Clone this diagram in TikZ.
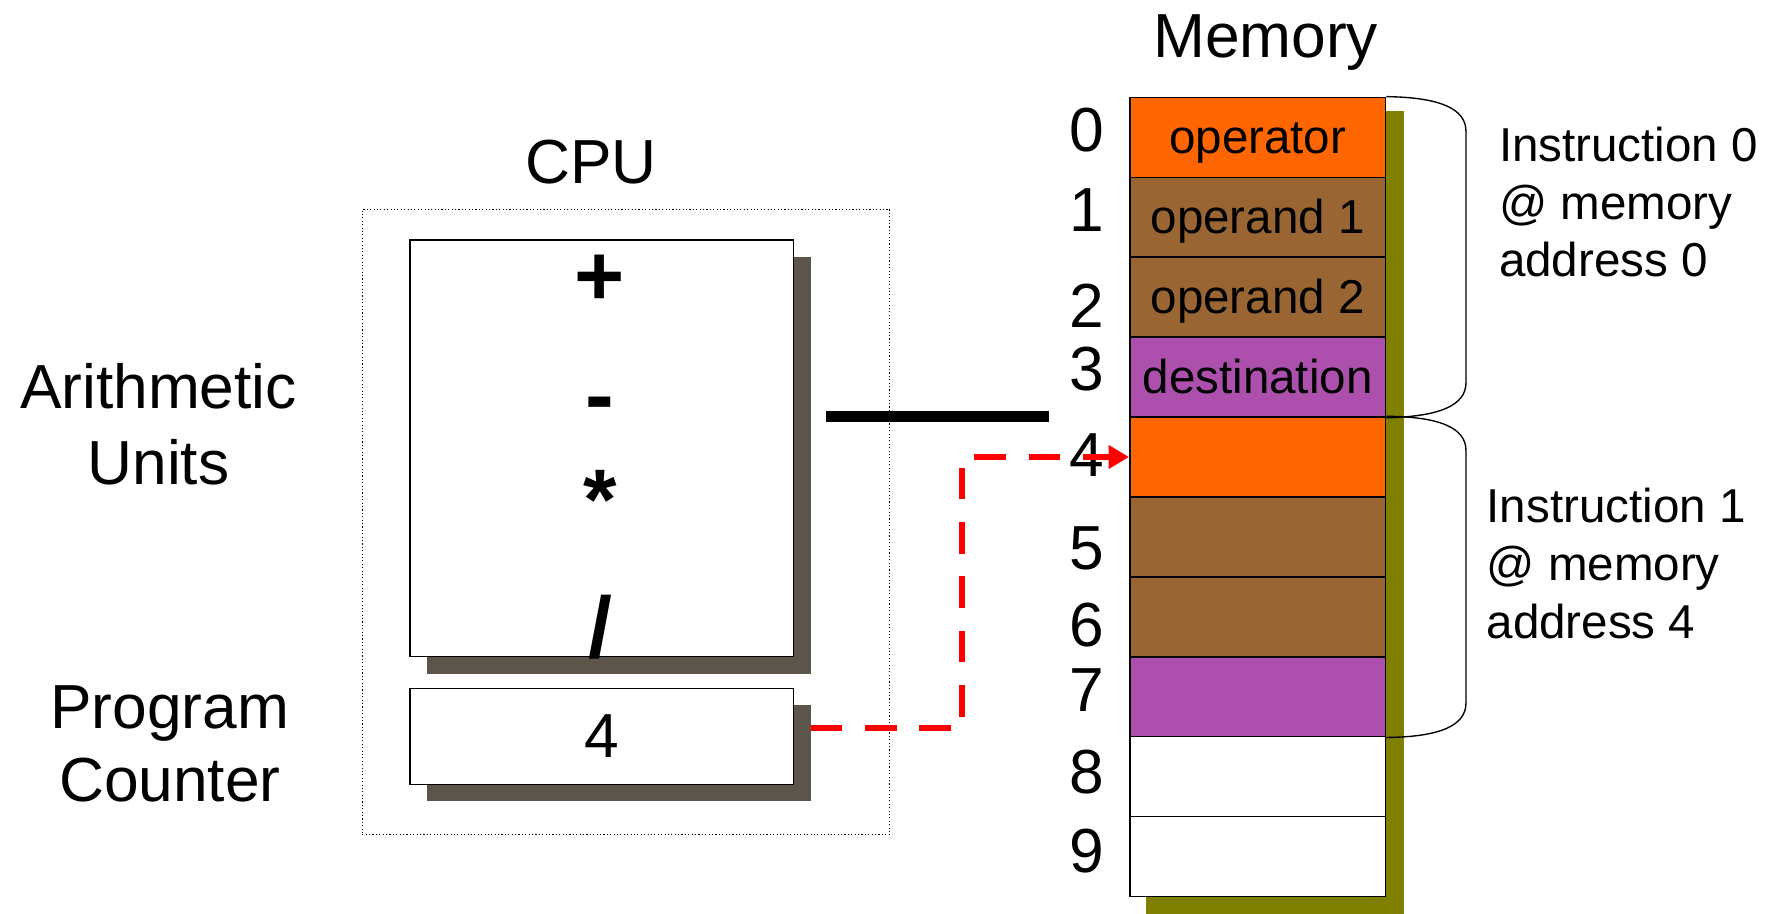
\documentclass[tikz,border=0pt]{standalone}
\usepackage{fontspec}
\setmainfont{Liberation Sans}
\usetikzlibrary{arrows.meta, positioning}

\definecolor{memorange}{HTML}{FF6600}
\definecolor{membrown}{HTML}{996633}
\definecolor{mempurple}{HTML}{AD50AD}
\definecolor{memshadow}{HTML}{808000}
\definecolor{cpushadow}{HTML}{5C554C}

\begin{document}
\begin{tikzpicture}[x=1pt, y=-1pt, every node/.style={inner sep=0pt, font=\fontsize{55}{66}\selectfont},
  cell/.style={draw=black, line width=1.3pt, minimum width=226pt, minimum height=70.6pt,
    text height=38pt, text depth=9pt, font=\fontsize{42}{50}\selectfont},
  unitbox/.style={draw=black, line width=1.3pt, fill=white, minimum width=339pt},
  shadowbox/.style={fill=cpushadow, minimum width=339pt},
  opsign/.style={anchor=base, font=\fontsize{76}{80}\selectfont\bfseries},
  note/.style={anchor=north west, align=left, font=\fontsize{42}{51}\selectfont}]
\useasboundingbox (0,0) rectangle (1568,807);

% Pamięć: cień i komórki
\fill[memshadow] (1012,98) rectangle (1240,807);
\foreach \i/\col/\txt in {
  0/memorange/operator, 1/membrown/operand 1, 2/membrown/operand 2, 3/mempurple/destination,
  4/memorange/, 5/membrown/, 6/membrown/, 7/mempurple/, 8/white/, 9/white/
} {
  \node[cell, fill=\col] (m\i) at (1111, 121.3 + 70.6*\i) {\txt};
}

% Adresy
\foreach \i/\y in {0/115, 1/186, 2/270, 3/326, 4/402, 5/484, 6/552, 7/610, 8/682, 9/752} {
  \node (n\i) at (960,\y) {\i};
}

% Nawiasy instrukcji
\draw[line width=1.2pt] (m0.north east) .. controls (1272,86) and (1295,96) .. (1295,116)
  -- (1295,338) .. controls (1295,358) and (1272,368) .. (m3.south east);
\draw[line width=1.2pt] (m4.north east) .. controls (1272,368) and (1295,378) .. (1295,398)
  -- (1295,621) .. controls (1295,641) and (1272,651) .. (m7.south east);
\node[note] (instr0) at (1324,112) {Instruction 0\\@ memory\\address 0};
\node[note] (instr1) at (1313,431) {Instruction 1\\@ memory\\address 4};

% Tytuły
\node[anchor=base] (memtitle) at (1118,51) {Memory};
\node[anchor=base] (cputitle) at (522,162) {CPU};

% Procesor
\node[draw=black, dotted, line width=1pt, minimum width=466pt, minimum height=552pt] (cpu) at (553,461) {};
\node[shadowbox, minimum height=368pt] (alushadow) at (546.5,411) {};
\node[unitbox, minimum height=368pt] (alu) at (531.5,396) {};
\node[opsign] (plus) at (530,270) {+};
\node[opsign] (minus) at (530,375) {-};
\node[opsign] (times) at (530,468) {*};
\node[opsign] (divide) at (530,581) {/};
\node[shadowbox, minimum height=85pt] (pcshadow) at (546.5,665.5) {};
\node[unitbox, minimum height=85pt] (pc) at (531.5,650.5) {4};

% Opisy
\node[align=center, font=\fontsize{55}{67}\selectfont] (alulabel) at (140,375) {Arithmetic\\Units};
\node[align=center, font=\fontsize{55}{64}\selectfont] (pclabel) at (150,657) {Program\\Counter};

% Szyna i wskaźnik
\coordinate (busl) at (730,368);
\coordinate (busr) at (927,368);
\draw[line width=9.5pt] (busl) -- (busr);
\coordinate (pcout) at (716,643);
\draw[red, line width=5pt, dash pattern=on 28pt off 20pt, -{Triangle[length=18pt, width=20pt]}]
  (pcout) -- ++(134,0) |- (m4.west);
\end{tikzpicture}
\end{document}
